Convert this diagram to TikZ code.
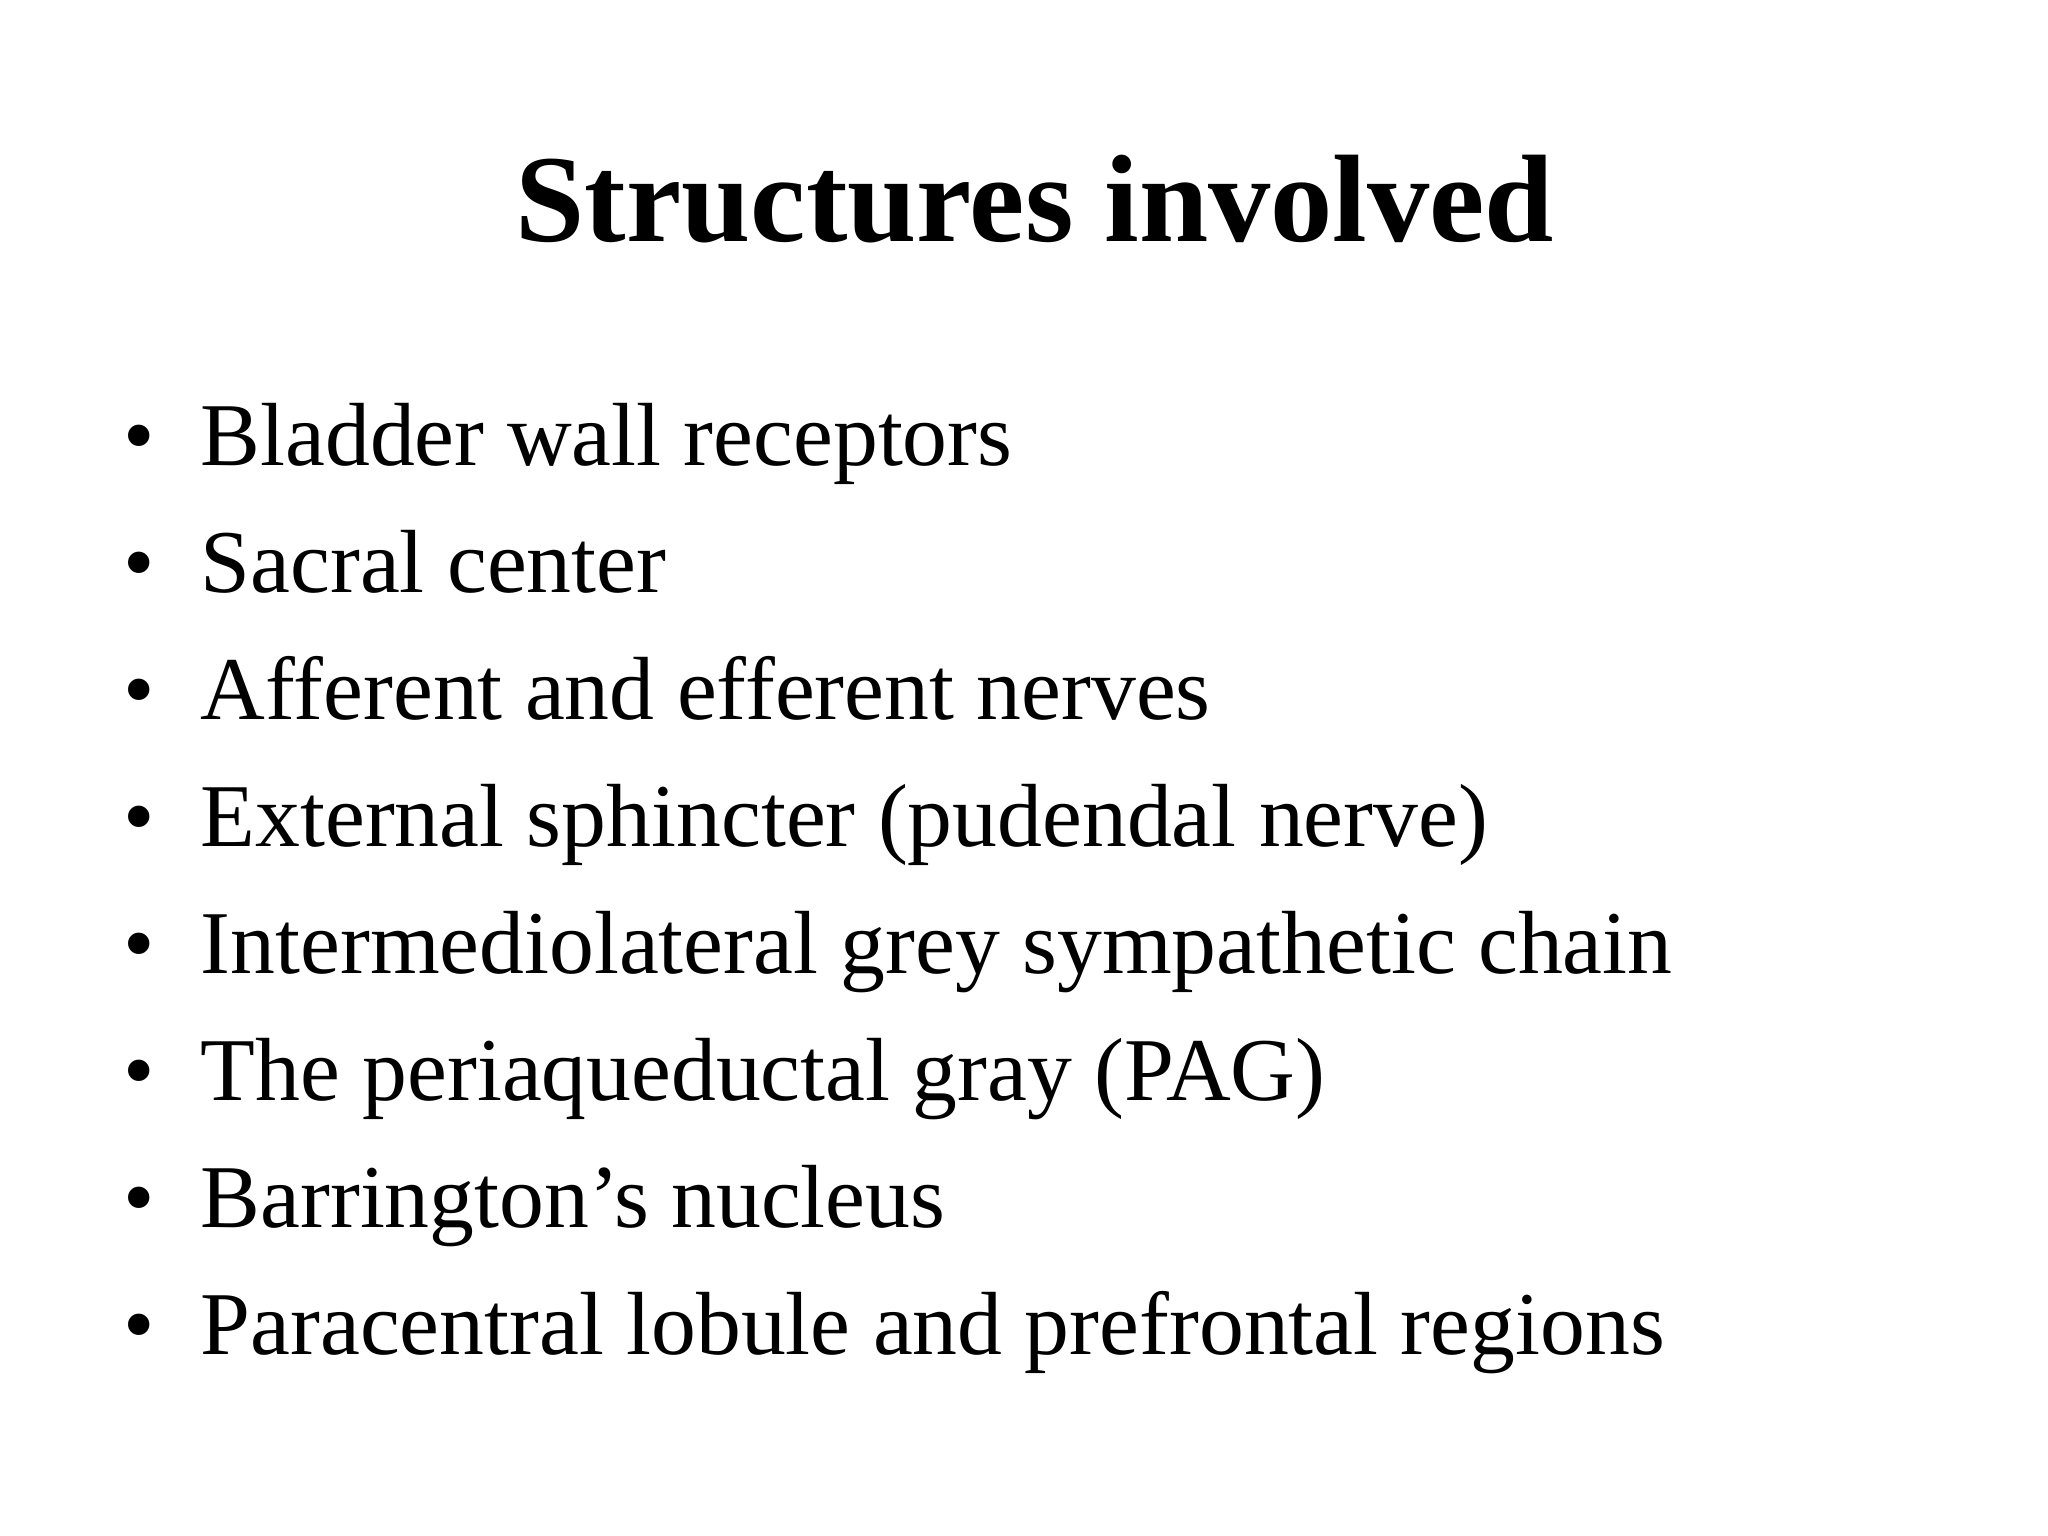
\documentclass[tikz,border=0pt]{standalone}
\usepackage{fontspec}
\setmainfont{Liberation Serif}
\begin{document}
\begin{tikzpicture}[x=0.01cm,y=-0.01cm,
  item/.style={anchor=base west,inner sep=0pt,font=\fontsize{25.5pt}{30pt}\selectfont},
  bul/.style={anchor=base,inner sep=0pt,font=\fontsize{25.5pt}{30pt}\selectfont}]
\useasboundingbox[fill=white] (0,0) rectangle (2048,1536);
\node[anchor=base,inner sep=0pt,font=\fontsize{35.4pt}{42pt}\selectfont\bfseries] (title) at (1035,241) {Structures involved};
\foreach \t [count=\i] in {Bladder wall receptors,Sacral center,Afferent and efferent nerves,External sphincter (pudendal nerve),Intermediolateral grey sympathetic chain,The periaqueductal gray (PAG),Barrington’s nucleus,Paracentral lobule and prefrontal regions}{
  \node[bul] (b\i) at (139,{465+(\i-1)*127}) {•};
  \node[item] (t\i) at (200,{465+(\i-1)*127}) {\t};
}
\end{tikzpicture}
\end{document}
